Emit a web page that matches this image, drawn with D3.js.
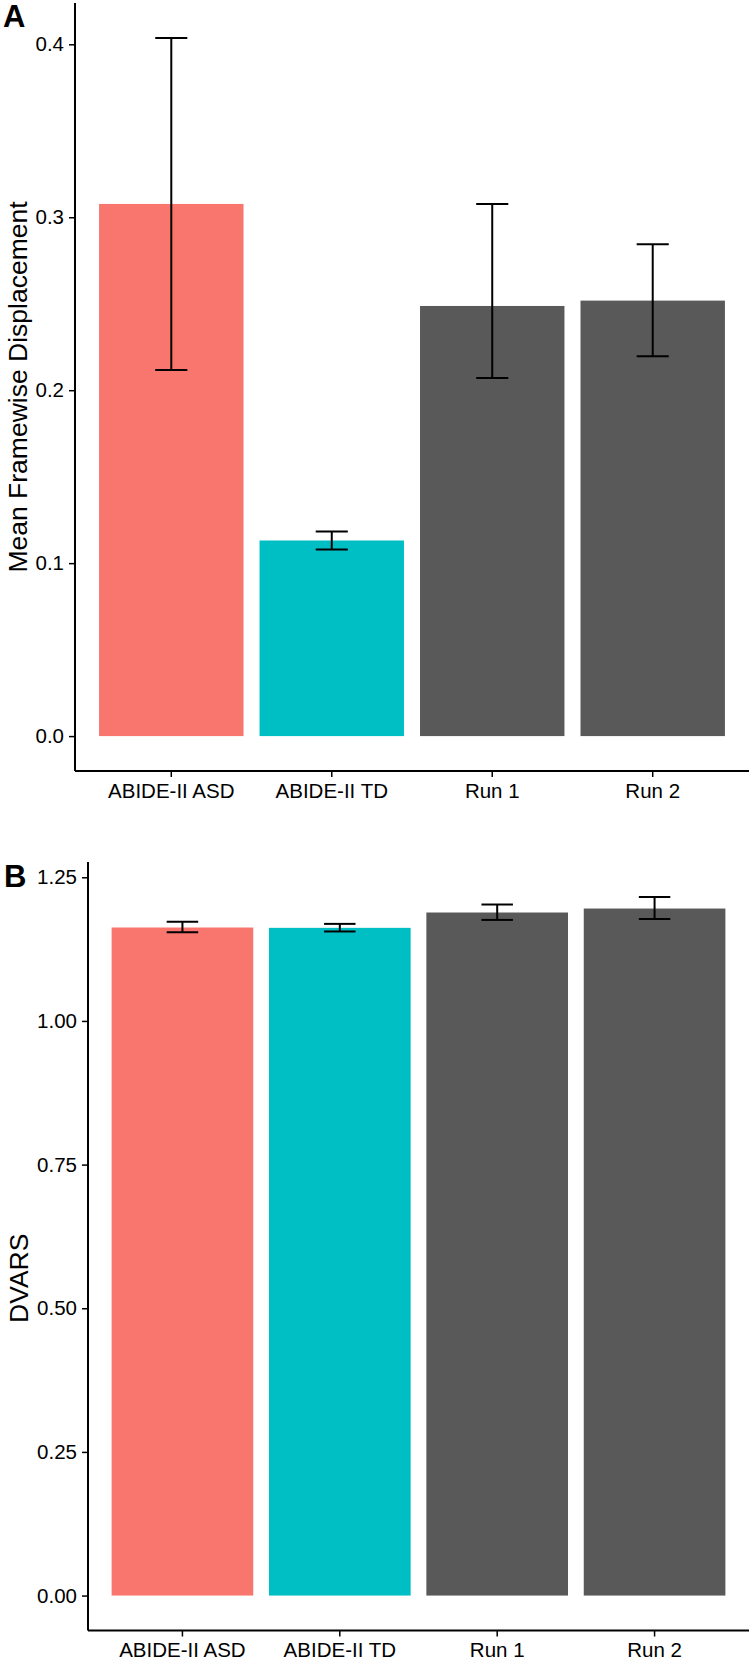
<!DOCTYPE html>
<html><head><meta charset="utf-8">
<script src="https://cdn.jsdelivr.net/npm/d3@7"></script>
<style>body{margin:0;background:#fff}svg{display:block;font-family:"Liberation Sans",Arial,sans-serif}</style>
</head><body>
<svg id="chart" width="752" height="1661"></svg>
<script>
const categories = ["ABIDE-II ASD", "ABIDE-II TD", "Run 1", "Run 2"];
const barColors = ["#F8766D", "#00BFC4", "#595959", "#595959"];

const fdMean = [0.3077, 0.1131, 0.2487, 0.2518];
const fdLow  = [0.2117, 0.1079, 0.2070, 0.2197];
const fdHigh = [0.4037, 0.1183, 0.3077, 0.2844];
const fdTicks = [0.0, 0.1, 0.2, 0.3, 0.4];

const dvMean = [1.1626, 1.1620, 1.1887, 1.1956];
const dvLow  = [1.1545, 1.1557, 1.1758, 1.1776];
const dvHigh = [1.1724, 1.1689, 1.2026, 1.2158];
const dvTicks = [0.00, 0.25, 0.50, 0.75, 1.00, 1.25];

const svg = d3.select("#chart");

function panel(cfg) {
  const g = svg.append("g");
  const x = d3.scaleBand().domain(categories).range([cfg.left, cfg.right])
    .paddingInner(0.1).paddingOuter(0.15);
  const maxV = d3.max(cfg.high);
  const y = d3.scaleLinear().domain([-0.05 * maxV, maxV * 1.05]).range([cfg.bottom, cfg.top]);

  g.selectAll("rect.bar").data(categories).join("rect")
    .attr("x", d => x(d)).attr("width", x.bandwidth())
    .attr("y", (d, i) => y(cfg.mean[i]))
    .attr("height", (d, i) => y(0) - y(cfg.mean[i]))
    .attr("fill", (d, i) => barColors[i]);

  const capW = x.step() * 0.2;
  const cx = d => x(d) + x.bandwidth() / 2;
  const eb = g.selectAll("g.err").data(categories).join("g")
    .attr("stroke", "#000").attr("stroke-width", 2);
  eb.append("line")
    .attr("x1", cx).attr("x2", cx)
    .attr("y1", (d, i) => y(cfg.low[i])).attr("y2", (d, i) => y(cfg.high[i]));
  eb.append("line")
    .attr("x1", d => cx(d) - capW / 2).attr("x2", d => cx(d) + capW / 2)
    .attr("y1", (d, i) => y(cfg.low[i])).attr("y2", (d, i) => y(cfg.low[i]));
  eb.append("line")
    .attr("x1", d => cx(d) - capW / 2).attr("x2", d => cx(d) + capW / 2)
    .attr("y1", (d, i) => y(cfg.high[i])).attr("y2", (d, i) => y(cfg.high[i]));

  const ya = g.append("g").attr("transform", `translate(${cfg.left},0)`)
    .call(d3.axisLeft(y).tickValues(cfg.ticks).tickFormat(d3.format(cfg.fmt)).tickSize(6).tickPadding(5));
  const xa = g.append("g").attr("transform", `translate(0,${cfg.bottom})`)
    .call(d3.axisBottom(x).tickSize(6).tickPadding(6));
  [ya, xa].forEach(a => {
    a.select(".domain").attr("stroke", "#000").attr("stroke-width", 2);
    a.selectAll(".tick line").attr("stroke", "#000").attr("stroke-width", 1.5);
    a.selectAll(".tick text").attr("fill", "#000").attr("font-size", 20.5)
      .attr("font-family", "'Liberation Sans', Arial, sans-serif");
  });
  xa.select(".domain").attr("d", `M${cfg.left},0H${cfg.right}`);
  ya.select(".domain").attr("d", `M0,${cfg.top}V${cfg.bottom}`);
  xa.selectAll(".tick text").attr("dy", "0.71em");

  g.append("text")
    .attr("transform", `translate(${cfg.titleX},${(cfg.top + cfg.bottom) / 2 + cfg.titleDy}) rotate(-90)`)
    .attr("text-anchor", "middle").attr("font-size", 26.5).attr("fill", "#000")
    .text(cfg.title);

  g.append("text").attr("x", cfg.letterX).attr("y", cfg.letterY)
    .attr("font-size", 31).attr("font-weight", "bold").attr("fill", "#000")
    .text(cfg.letter);
}

panel({left: 75, right: 749, top: 3, bottom: 771, mean: fdMean, low: fdLow, high: fdHigh,
  ticks: fdTicks, fmt: ".1f", title: "Mean Framewise Displacement", titleX: 27, titleDy: 0,
  letter: "A", letterX: 3, letterY: 27});
panel({left: 88, right: 749, top: 862, bottom: 1630.5, mean: dvMean, low: dvLow, high: dvHigh,
  ticks: dvTicks, fmt: ".2f", title: "DVARS", titleX: 28, titleDy: 32,
  letter: "B", letterX: 4, letterY: 887});
</script>
</body></html>
